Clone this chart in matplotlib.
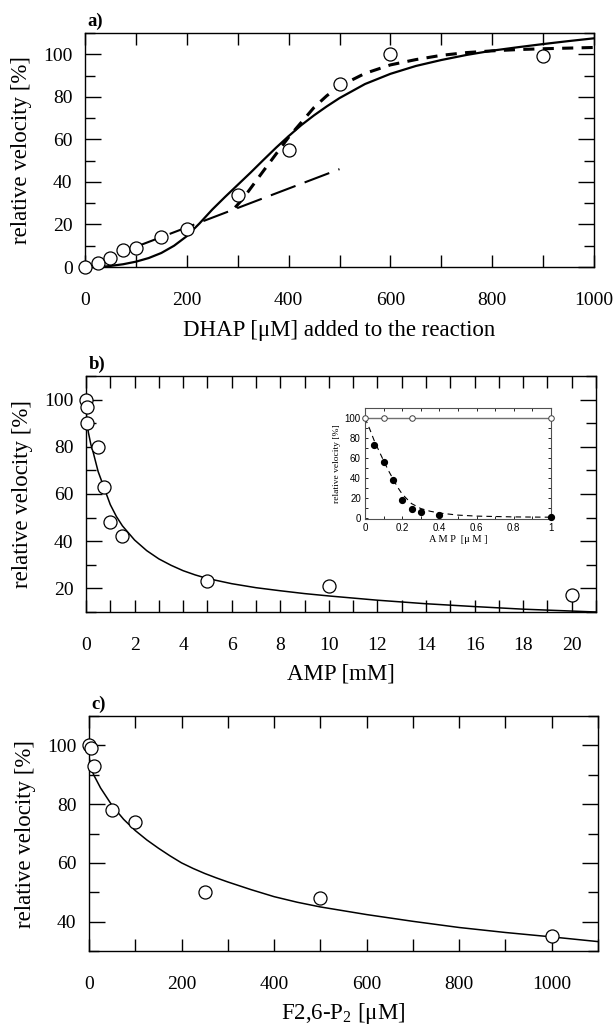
import matplotlib
matplotlib.use('Agg')
import matplotlib.pyplot as plt
from matplotlib.ticker import MultipleLocator, FixedLocator, FixedFormatter

# ---------------- data ----------------
# panel a
a_x = [0, 25, 50, 75, 100, 150, 200, 300, 400, 500, 600, 900]
a_y = [0, 2, 4, 8, 9, 14, 18, 34, 55, 86, 100, 99]
a_fit_x = [30, 50, 75, 100, 125, 150, 175, 200, 225, 250, 275, 300, 325, 350, 375,
           400, 425, 450, 475, 500, 550, 600, 650, 700, 750, 800, 850, 900, 950, 1000]
a_fit_y = [0, 0.5, 1.3, 2.5, 4.2, 6.6, 10, 14.5, 20.5, 27, 32.9, 38.6, 44.3, 50.2, 56,
           61.5, 66.7, 71.3, 75.5, 79.4, 86, 90.8, 94.5, 97.3, 99.7, 101.7, 103.3,
           104.8, 106.2, 107.5]
a_lin_x = [100, 500]
a_lin_y = [9.5, 46]
a_dash_x = [295, 310, 330, 350, 375, 400, 425, 450, 475, 500, 550, 600, 650, 700,
            750, 800, 850, 900, 950, 1000]
a_dash_y = [28, 32, 38.5, 45, 53, 61, 68, 75, 80.5, 85, 91, 95, 97.5, 99.5,
            100.8, 101.6, 102.2, 102.6, 102.9, 103.2]

# panel b
b_x = [0, 0.025, 0.05, 0.5, 0.75, 1.0, 1.5, 5, 10, 20]
b_y = [100, 97, 90, 80, 63, 48, 42, 23, 21, 17]
b_fit_x = [0, 0.02, 0.05, 0.1, 0.2, 0.3, 0.5, 0.75, 1.0, 1.25, 1.5, 2, 2.5, 3, 3.5,
           4, 4.5, 5, 6, 7, 8, 9, 10, 12, 14, 16, 18, 20, 21]
b_fit_y = [98, 93, 89.5, 86, 81, 77.5, 69.5, 62.5, 55.5, 50.5, 46.5, 40.5, 36, 32.5,
           29.8, 27.5, 25.7, 24.2, 22, 20.3, 19, 17.8, 16.8, 15, 13.5, 12.3, 11.2,
           10.4, 10]

# inset of panel b
ins_open_x = [0, 0.1, 0.25, 1]
ins_open_y = [100, 100, 100, 100]
ins_fill_x = [0.05, 0.1, 0.15, 0.2, 0.25, 0.3, 0.4, 1.0]
ins_fill_y = [73, 56, 38, 18, 9, 6, 3, 1]
ins_fit_x = [0, 0.025, 0.05, 0.075, 0.1, 0.125, 0.15, 0.175, 0.2, 0.25, 0.3, 0.35,
             0.4, 0.5, 0.6, 0.8, 1.0]
ins_fit_y = [100, 89, 77, 67, 57, 47.5, 39, 30.5, 23.5, 14, 9, 6.3, 4.5, 2.4, 1.4,
             0.6, 0.3]
ins_line_x = [0, 1]
ins_line_y = [100, 100]
ins_xticks = [0, 0.2, 0.4, 0.6, 0.8, 1]
ins_xticklabels = ['0', '0.2', '0.4', '0.6', '0.8', '1']

# panel c
c_x = [0, 5, 10, 50, 100, 250, 500, 1000]
c_y = [100, 99, 93, 78, 74, 50, 48, 35]
c_fit_x = [0, 5, 10, 25, 50, 75, 100, 125, 150, 175, 200, 225, 250, 275, 300, 350,
           400, 450, 500, 600, 700, 800, 900, 1000, 1100]
c_fit_y = [96, 92.5, 90, 85.5, 79.5, 74.8, 71, 67.8, 65, 62.4, 60, 58.1, 56.4,
           54.9, 53.5, 50.9, 48.5, 46.6, 45, 42.4, 40.1, 38, 36.3, 34.8, 33.2]

# ---------------- style ----------------
plt.rcParams['font.family'] = ['Liberation Serif', 'DejaVu Serif']
plt.rcParams['mathtext.fontset'] = 'custom'
plt.rcParams['mathtext.rm'] = 'Liberation Serif'
plt.rcParams['mathtext.it'] = 'Liberation Serif:italic'
plt.rcParams['mathtext.bf'] = 'Liberation Serif:bold'
plt.rcParams['lines.scale_dashes'] = False

W, H = 616, 1025
fig = plt.figure(figsize=(W / 100, H / 100), dpi=100)


def box(l, r, t, b):
    return [l / W, 1 - b / H, (r - l) / W, (b - t) / H]


def style(ax, xmaj, xmin, ymaj, ymin):
    ax.xaxis.set_major_locator(MultipleLocator(xmaj))
    ax.xaxis.set_minor_locator(MultipleLocator(xmin))
    ax.yaxis.set_major_locator(MultipleLocator(ymaj))
    ax.yaxis.set_minor_locator(MultipleLocator(ymin))
    ax.tick_params(which='both', direction='in', top=True, right=True, width=1.0,
                   labelsize=14)
    ax.tick_params(axis='y', which='major', length=11.5, pad=9)
    ax.tick_params(axis='y', which='minor', length=7)
    ax.tick_params(axis='x', which='both', length=8.5, pad=18)
    for s in ax.spines.values():
        s.set_linewidth(1.0)


circ = dict(ls='none', marker='o', mfc='white', mec='black', ms=9.4, mew=0.9,
            zorder=4, clip_on=False)

# ---------------- panel a ----------------
axa = fig.add_axes(box(85, 594, 33, 267))
axa.plot(a_fit_x, a_fit_y, color='black', lw=1.6, zorder=2)
la, = axa.plot(a_lin_x, a_lin_y, color='black', lw=1.5, zorder=2)
la.set_dashes((19, 7))
ld, = axa.plot(a_dash_x, a_dash_y, color='black', lw=2.2, zorder=2)
ld.set_dashes((8, 6))
axa.plot(a_x, a_y, **circ)
axa.set_xlim(0, 1000)
axa.set_ylim(0, 110)
style(axa, 200, 100, 20, 10)
axa.set_ylabel('relative velocity [%]', fontsize=16.5, labelpad=8)
axa.set_xlabel('DHAP [μM] added to the reaction', fontsize=16.5, labelpad=8)
axa.text(0.005, 1.012, 'a)', transform=axa.transAxes, fontsize=13.5,
         fontweight='bold', ha='left', va='bottom')

# ---------------- panel b ----------------
axb = fig.add_axes(box(86, 596, 376, 612))
axb.plot(b_fit_x, b_fit_y, color='black', lw=1.1, zorder=2)
axb.plot(b_x, b_y, **circ)
axb.set_xlim(0, 21)
axb.set_ylim(10, 110)
style(axb, 2, 1, 20, 10)
axb.set_ylabel('relative velocity [%]', fontsize=16.5, labelpad=8)
axb.set_xlabel('AMP [mM]', fontsize=16.5, labelpad=7)
axb.text(0.005, 1.012, 'b)', transform=axb.transAxes, fontsize=13.5,
         fontweight='bold', ha='left', va='bottom')

# inset
axi = fig.add_axes(box(365, 551, 408, 519))
axi.plot(ins_line_x, ins_line_y, color='#707070', lw=1.0, zorder=2)
li, = axi.plot(ins_fit_x, ins_fit_y, color='black', lw=0.8, zorder=2)
li.set_dashes((4, 3))
axi.plot(ins_open_x, ins_open_y, ls='none', marker='o', mfc='white', mec='#404040',
         ms=4, mew=0.7, zorder=4, clip_on=False)
axi.plot(ins_fill_x, ins_fill_y, ls='none', marker='o', mfc='black', mec='black',
         ms=4.2, zorder=4, clip_on=False)
axi.set_xlim(0, 1)
axi.set_ylim(-1.5, 110)
axi.xaxis.set_major_locator(FixedLocator(ins_xticks))
axi.xaxis.set_major_formatter(FixedFormatter(ins_xticklabels))
axi.xaxis.set_minor_locator(MultipleLocator(0.1))
axi.yaxis.set_major_locator(MultipleLocator(20))
axi.yaxis.set_minor_locator(MultipleLocator(10))
axi.tick_params(which='both', direction='in', top=True, right=True, width=0.6,
                length=2.5, labelsize=7, pad=3)
for lab in axi.get_xticklabels() + axi.get_yticklabels():
    lab.set_family(['Liberation Sans', 'DejaVu Sans'])
for s in axi.spines.values():
    s.set_linewidth(0.8)
    s.set_color('#505050')
axi.set_ylabel('relative velocity [%]', fontsize=6.8, labelpad=3)
axi.set_xlabel('A M P  [μ M ]', fontsize=7.5, labelpad=1)

# ---------------- panel c ----------------
axc = fig.add_axes(box(89, 598, 716, 951))
axc.plot(c_fit_x, c_fit_y, color='black', lw=1.1, zorder=2)
axc.plot(c_x, c_y, **circ)
axc.set_xlim(0, 1100)
axc.set_ylim(30, 110)
style(axc, 200, 100, 20, 10)
axc.set_ylabel('relative velocity [%]', fontsize=16.5, labelpad=8)
axc.set_xlabel('F2,6-P$_2$ [μM]', fontsize=16.5, labelpad=6)
axc.text(0.005, 1.012, 'c)', transform=axc.transAxes, fontsize=13.5,
         fontweight='bold', ha='left', va='bottom')

fig.savefig('out.png', dpi=100)
